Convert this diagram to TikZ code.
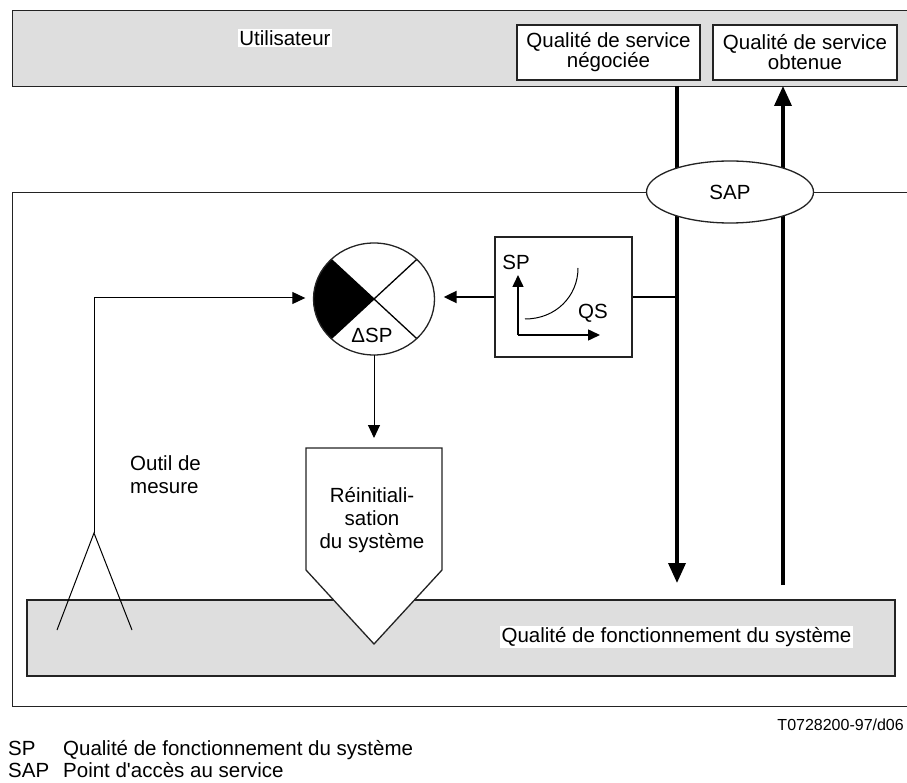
\documentclass[tikz,border=0pt]{standalone}
\usepackage{fontspec}
\setmainfont{Liberation Sans}[Ligatures=TeXOff]
\usetikzlibrary{arrows.meta,shapes.geometric}
\definecolor{panel}{RGB}{222,222,222}
\definecolor{edge}{RGB}{35,35,35}

\begin{document}
\begin{tikzpicture}[x=1pt,y=-1pt,
  every node/.style={font=\fontsize{20.5}{23}\selectfont},
  frame/.style={draw=edge,line width=1.3pt},
  thinline/.style={line width=1pt},
  heavy/.style={line width=3.6pt},
  midline/.style={line width=2.2pt},
  bigtip/.style={-{Triangle[length=20pt,width=17pt]}},
  smalltip/.style={-{Triangle[length=13pt,width=12pt]}},
  axistip/.style={-{Triangle[length=12pt,width=11pt]}},
  whitebox/.style={frame,fill=white,inner sep=0pt,align=center},
  label/.style={inner sep=0pt}
]
\clip (0,0) rectangle (907,783);
\useasboundingbox (0,0) rectangle (907,783);

% user layer at the top
\node[frame,fill=panel,anchor=north west,minimum width=930pt,minimum height=76pt,inner sep=0pt] (user) at (12,10) {};
\node[fill=white,inner sep=1.5pt] (userlbl) at (285,38) {Utilisateur};
\node[whitebox,minimum width=183pt,minimum height=55pt,font=\fontsize{20.5}{20}\selectfont] (neg) at (608.5,52.5) {Qualité de service\\négociée};
\node[whitebox,minimum width=184pt,minimum height=55pt,font=\fontsize{20.5}{20}\selectfont] (obt) at (805,52.5) {Qualité de service\\obtenue};

% system frame
\node[frame,anchor=north west,minimum width=930pt,minimum height=514pt,inner sep=0pt] (system) at (12,192) {};

% service flows between user and system
\coordinate (negtop) at (677,86);
\coordinate (negend) at (677,583);
\coordinate (obtstart) at (783,585);
\coordinate (obttop) at (783,86);
\draw[heavy,bigtip] (negtop) -- (negend);
\draw[heavy,bigtip] (obtstart) -- (obttop);

% service access point
\node[frame,fill=white,ellipse,minimum width=167pt,minimum height=62pt,inner sep=0pt] (sap) at (730,192) {SAP};

% system performance layer
\node[frame,fill=panel,minimum width=868pt,minimum height=76pt,inner sep=0pt] (perf) at (461,638) {};
\node[fill=white,inner sep=1.5pt] (perflbl) at (676.5,637) {Qualité de fonctionnement du système};

% comparator
\node[ellipse,minimum width=121pt,minimum height=112pt,inner sep=0pt] (circ) at (374,299) {};
\fill ([shift={(135:60.5 and 56)}]circ.center) arc[start angle=135,end angle=225,x radius=60.5,y radius=56] -- (circ.center) -- cycle;
\draw[line width=1.3pt] ([shift={(45:60.5 and 56)}]circ.center) -- ([shift={(225:60.5 and 56)}]circ.center);
\draw[line width=1.3pt] ([shift={(135:60.5 and 56)}]circ.center) -- ([shift={(315:60.5 and 56)}]circ.center);
\draw[frame] (circ.center) ellipse[x radius=60.5,y radius=56];
\node[label] (dsp) at (372,335) {ΔSP};

% mapping box
\node[frame,minimum width=137pt,minimum height=120pt,inner sep=0pt] (spbox) at (563.5,297) {};
\coordinate (orig) at (518,335);
\coordinate (yend) at (518,275);
\coordinate (xend) at (600,335);
\draw[line width=1.5pt,axistip] (orig) -- (yend);
\draw[line width=1.5pt,axistip] (orig) -- (xend);
\draw[thinline] (525,319) .. controls (556,319) and (578,296) .. (578,268);
\node[label] (splbl) at (516,262) {SP};
\node[label] (qslbl) at (593,313) {QS};

\draw[midline] (spbox.east) -- (spbox.east -| negtop);
\draw[midline,smalltip,shorten >=9pt] (spbox.west) -- (spbox.west -| circ.east);

% measuring tool
\coordinate (toolfoot) at (94,533);
\coordinate (tooltop) at (94,298);
\coordinate (legl) at (57,630);
\coordinate (legr) at (132,630);
\draw[thinline,smalltip,shorten >=8pt] (toolfoot) -- (tooltop) -- (tooltop -| circ.west);
\draw[thinline] (legl) -- (toolfoot) -- (legr);
\node[label,anchor=west,align=left] (tool) at (130,475) {Outil de\\mesure};

% system reset
\coordinate (resettop) at (374,448);
\draw[frame,fill=white] (306,448) -- (442,448) -- (442,570) -- (374,644) -- (306,570) -- cycle;
\node[label,align=center] (reset) at (372,520) {Réinitiali-\\sation\\du système};
\draw[thinline,smalltip,shorten >=10pt] (circ.south) -- (resettop);

% reference and legend
\node[label,anchor=base east,font=\fontsize{16}{18}\selectfont] (ref) at (904,730) {T0728200-97/d06};
\node[label,anchor=base west] (k1) at (8,755) {SP};
\node[label,anchor=base west] (v1) at (63,755) {Qualité de fonctionnement du système};
\node[label,anchor=base west] (k2) at (8,777) {SAP};
\node[label,anchor=base west] (v2) at (63,777) {Point d'accès au service};
\end{tikzpicture}
\end{document}
